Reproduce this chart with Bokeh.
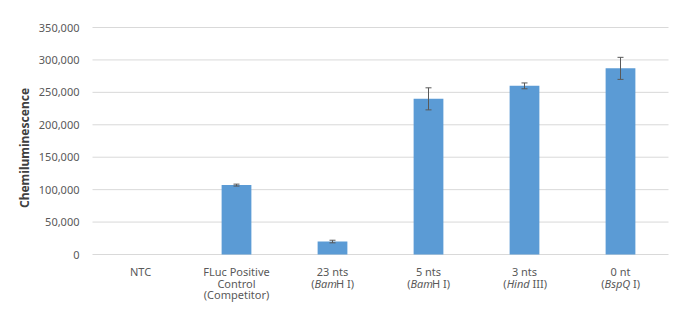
from bokeh.plotting import figure
from bokeh.models import ColumnDataSource, Whisker, TeeHead, Range1d
from bokeh.core.properties import value
from bokeh.embed import file_html
from bokeh.resources import INLINE
import math

# ---- data ----
categories = ["NTC", "FLuc Positive Control (Competitor)", "23 nts (BamH I)",
              "5 nts (BamH I)", "3 nts (Hind III)", "0 nt (BspQ I)"]
# label lines; *...* marks italic parts
label_lines = [
    ["NTC"],
    ["FLuc Positive", "Control", "(Competitor)"],
    ["23 nts", "(*Bam*H I)"],
    ["5 nts", "(*Bam*H I)"],
    ["3 nts", "(*Hind* III)"],
    ["0 nt", "(*BspQ* I)"],
]
values = [0, 107000, 20000, 240000, 260000, 287000]
errors = [0, 1500, 2000, 17000, 4500, 17000]
y_ticks = [0, 50000, 100000, 150000, 200000, 250000, 300000, 350000]
y_title = "Chemiluminescence"

FONT = "Noto Sans"
FS = 11
TXT = "#595959"

W, H = 698, 314
LEFT, RIGHT, TOP, BOTTOM = 92, 30, 27, 60
n = len(categories)
cat_px = (W - LEFT - RIGHT) / n          # pixels per category
y_max = y_ticks[-1]
px = y_max / (H - TOP - BOTTOM)          # data units per pixel

p = figure(width=W, height=H, output_backend="svg", toolbar_location=None,
           x_axis_location=None, y_axis_location=None,
           x_range=Range1d(-LEFT / cat_px, n + RIGHT / cat_px),
           y_range=Range1d(-BOTTOM * px, y_max + TOP * px),
           min_border=0)
p.outline_line_color = None
p.grid.visible = False
p.background_fill_color = "white"
p.border_fill_color = "white"

# grid lines at tick values
p.segment(x0=[0] * len(y_ticks), x1=[n] * len(y_ticks), y0=y_ticks, y1=y_ticks,
          line_color="#d9d9d9", line_width=1)

xs = [i + 0.5 for i in range(n)]
src = ColumnDataSource(dict(x=xs, top=values))
p.vbar(x="x", top="top", width=0.31, source=src, fill_color="#5B9BD5", line_color=None)

idx = [i for i, e in enumerate(errors) if e > 0]
wsrc = ColumnDataSource(dict(x=[xs[i] for i in idx],
                             upper=[values[i] + errors[i] for i in idx],
                             lower=[values[i] - errors[i] for i in idx]))
wk = Whisker(base="x", upper="upper", lower="lower", source=wsrc, level="overlay",
             line_color="#595959", line_width=1,
             upper_head=TeeHead(size=6, line_color="#595959", line_width=1),
             lower_head=TeeHead(size=6, line_color="#595959", line_width=1))
p.add_layout(wk)

# y tick labels
p.text(x=[-13 / cat_px] * len(y_ticks), y=y_ticks, text=[f"{t:,}" for t in y_ticks],
       text_align="right", text_baseline="middle", text_font=value(FONT),
       text_font_size=f"{FS}px", text_color=TXT)

# y axis title
p.text(x=[(24 - LEFT) / cat_px], y=[(H - BOTTOM - 147.5) * px], text=[y_title],
       angle=math.pi / 2, text_align="center", text_baseline="middle",
       text_font=value(FONT), text_font_size="12px", text_font_style="bold",
       text_color="#404040")

# approximate glyph widths (em) for centring mixed-style lines
CW = {' ': 0.30, '(': 0.296, ')': 0.296, 'B': 0.633, 'a': 0.561, 'm': 0.925, 'H': 0.735,
      'I': 0.30, 'i': 0.258, 'n': 0.618, 'd': 0.615, 's': 0.478, 'p': 0.615, 'Q': 0.778}

def tw(s, italic=False):
    w = sum(CW.get(c, 0.56) for c in s) * FS
    return w * (0.88 if italic else 1.0) + (1.0 if italic and s else 0.0)

def pieces(line):
    parts = line.split("*")
    return [(t, k % 2 == 1) for k, t in enumerate(parts) if t]

line_px = [270.5, 282.5, 294]
zero_px = H - BOTTOM
cx, cy, ct = [], [], []
mx = {False: [], True: []}
my = {False: [], True: []}
mt = {False: [], True: []}
mo = {False: [], True: []}
for i, lines in enumerate(label_lines):
    for j, line in enumerate(lines):
        yd = -(line_px[j] - zero_px) * px
        ps = pieces(line)
        if len(ps) == 1 and not ps[0][1]:
            cx.append(xs[i]); cy.append(yd); ct.append(line)
            continue
        total = sum(tw(t, it) for t, it in ps)
        off = -total / 2
        for t, it in ps:
            lead = len(t) - len(t.lstrip(" "))
            s = t.lstrip(" ")
            off += lead * CW[" "] * FS
            mx[it].append(xs[i]); my[it].append(yd); mt[it].append(s); mo[it].append(off)
            off += tw(s, it)

p.text(x=cx, y=cy, text=ct, text_align="center", text_baseline="middle",
       text_font=value(FONT), text_font_size=f"{FS}px", text_color=TXT)
for it in (False, True):
    p.text(x=mx[it], y=my[it], text=mt[it], x_offset=mo[it], text_align="left",
           text_baseline="middle", text_font=value(FONT), text_font_size=f"{FS}px",
           text_color=TXT, text_font_style="italic" if it else "normal")

open("out.html", "w").write(file_html(p, INLINE))
